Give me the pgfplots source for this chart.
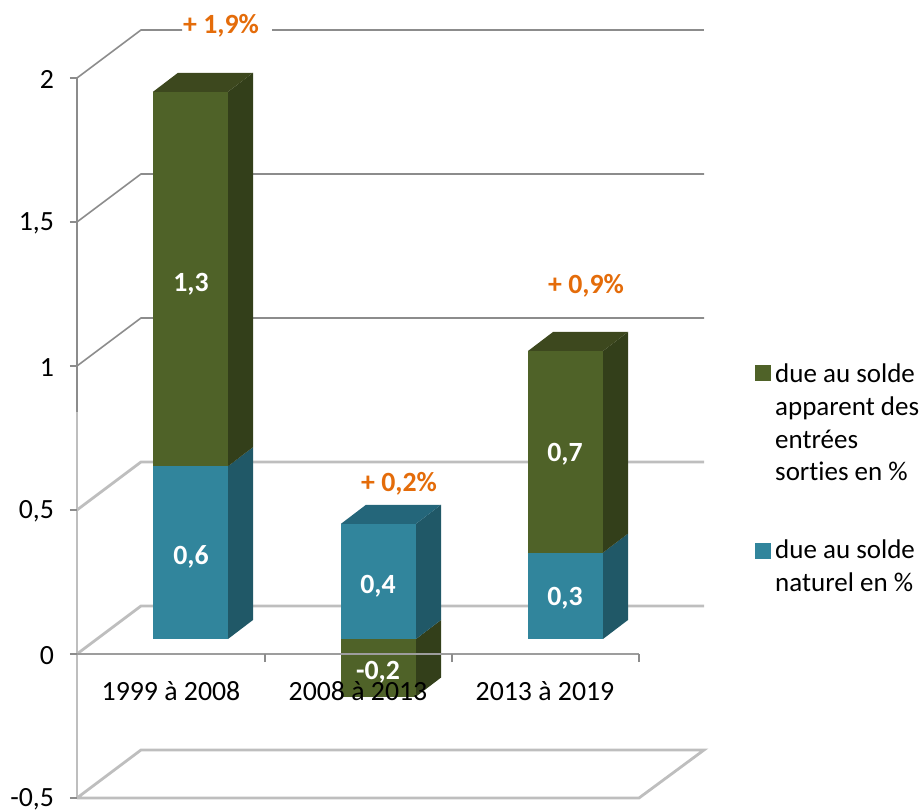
\documentclass[border=0pt]{standalone}
\usepackage{fontspec}
\setmainfont[Ligatures=NoCommon]{Carlito}
\usepackage{pgfplots}
\pgfplotsset{compat=1.18}

\definecolor{olive}{HTML}{4F6228}
\definecolor{oliveside}{HTML}{333F1A}
\definecolor{olivetop}{HTML}{3D481E}
\definecolor{teal}{HTML}{31859C}
\definecolor{tealside}{HTML}{205867}
\definecolor{tealtop}{HTML}{24667A}
\definecolor{gridup}{HTML}{8C8C8C}
\definecolor{gridlow}{HTML}{BEBEBE}
\definecolor{pct}{HTML}{E46C0A}

\newcommand{\txt}{\fontsize{13.9}{16.4}\selectfont}

% x is in image pixels (1px = 0.5pt), y is the chart value
% the faux-3D offset is 25px in x and 0.066 in y
\pgfplotsset{
  face/.style={draw=none, fill=#1, forget plot, yshift=7.5pt},
  up/.style={draw=gridup, line width=0.8pt, forget plot},
  low/.style={draw=gridlow, line width=1.4pt, forget plot},
}

\begin{document}
\begin{tikzpicture}
\useasboundingbox (0,0) rectangle (461pt,405pt);
\begin{axis}[
    at={(38.5pt,0pt)},
    anchor=south west,
    scale only axis,
    width=422.5pt,
    height=405pt,
    xmin=77, xmax=922,
    ymin=-0.54167, ymax=2.27083,
    clip=false,
    axis on top,
    axis x line*=middle,
    axis y line*=left,
    axis line style={draw=none},
    tick align=outside,
    tick style={color=gridup, line width=0.8pt},
    major tick length=3.5pt,
    ytick={-0.5,0,0.5,1,1.5,2},
    yticklabels={{-0,5},0,{0,5},1,{1,5},2},
    xtick={171,358,545},
    xticklabels={1999 à 2008,2008 à 2013,2013 à 2019},
    major x tick style={draw=none},
    minor xtick={265,452,639},
    minor tick length=4pt,
    tick label style={font=\txt, text=black},
    xticklabel style={yshift=-6.5pt},
    yticklabel style={xshift=-4.5pt, yshift=-0.7pt},
    legend style={draw=none, fill=none, at={(axis cs:755,1.023)}, anchor=north west,
                  legend cell align=left, cells={align=left},
                  font=\fontsize{13.5}{16.4}\selectfont, row sep=24pt, inner sep=0pt},
]
% back walls and floors
\addplot[up] coordinates {(77,2) (141,2.1667) (182,2.1667)};
\addplot[up] coordinates {(272,2.1667) (704,2.1667)};
\addplot[up] coordinates {(77,1.5) (141,1.6667) (704,1.6667)};
\addplot[up] coordinates {(77,1) (141,1.1667) (704,1.1667)};
\addplot[low] coordinates {(77,0.5) (141,0.6667) (704,0.6667)};
\addplot[low] coordinates {(77,0) (141,0.1667) (704,0.1667)};
\addplot[low] coordinates {(77,-0.5) (141,-0.3333) (704,-0.3333) (639,-0.5) (77,-0.5)};
\addplot[up] coordinates {(77,2) (77,0.84)};
\addplot[low] coordinates {(77,0.84) (77,-0.5)};

% 1999 a 2008
\addplot[face=teal] coordinates {(153,0) (228,0) (228,0.6) (153,0.6)} --cycle;
\addplot[face=tealside] coordinates {(228,0) (253,0.066) (253,0.666) (228,0.6)} --cycle;
\addplot[face=olive] coordinates {(153,0.6) (228,0.6) (228,1.9) (153,1.9)} --cycle;
\addplot[face=oliveside] coordinates {(228,0.6) (253,0.666) (253,1.966) (228,1.9)} --cycle;
\addplot[face=olivetop] coordinates {(153,1.9) (228,1.9) (253,1.966) (178,1.966)} --cycle;

% 2008 a 2013
\addplot[face=olive] coordinates {(341,-0.2) (416,-0.2) (416,0) (341,0)} --cycle;
\addplot[face=oliveside] coordinates {(416,-0.2) (441,-0.134) (441,0.066) (416,0)} --cycle;
\addplot[face=teal] coordinates {(341,0) (416,0) (416,0.4) (341,0.4)} --cycle;
\addplot[face=tealside] coordinates {(416,0) (441,0.066) (441,0.466) (416,0.4)} --cycle;
\addplot[face=tealtop] coordinates {(341,0.4) (416,0.4) (441,0.466) (366,0.466)} --cycle;

% 2013 a 2019
\addplot[face=teal] coordinates {(528,0) (603,0) (603,0.3) (528,0.3)} --cycle;
\addplot[face=tealside] coordinates {(603,0) (628,0.066) (628,0.366) (603,0.3)} --cycle;
\addplot[face=olive] coordinates {(528,0.3) (603,0.3) (603,1) (528,1)} --cycle;
\addplot[face=oliveside] coordinates {(603,0.3) (628,0.366) (628,1.066) (603,1)} --cycle;
\addplot[face=olivetop] coordinates {(528,1) (603,1) (628,1.066) (553,1.066)} --cycle;

% front axis line, over the bars
\addplot[draw=gridup!85, line width=1pt, forget plot] coordinates {(77,0) (639,0)};

% legend
\addlegendimage{legend image code/.code={\fill[olive] (0pt,21.5pt) rectangle (7.5pt,29pt);}}
\addlegendentry{due au solde\\apparent des\\entrées\\sorties en \%}
\addlegendimage{legend image code/.code={\fill[teal] (0pt,4.5pt) rectangle (7.5pt,12pt);}}
\addlegendentry{due au solde\\naturel en \%}

% value labels
\node[font=\txt\bfseries, text=white] at (axis cs:191,1.285) {1,3};
\node[font=\txt\bfseries, text=white] at (axis cs:191,0.338) {0,6};
\node[font=\txt\bfseries, text=white] at (axis cs:378,0.235) {0,4};
\node[font=\txt\bfseries, text=white] at (axis cs:378,-0.064) {-0,2};
\node[font=\txt\bfseries, text=white] at (axis cs:565,0.692) {0,7};
\node[font=\txt\bfseries, text=white] at (axis cs:565,0.192) {0,3};
\node[font=\txt\bfseries, text=pct] at (axis cs:221,2.18) {+ 1,9\%};
\node[font=\txt\bfseries, text=pct] at (axis cs:399,0.59) {+ 0,2\%};
\node[font=\txt\bfseries, text=pct] at (axis cs:586,1.277) {+ 0,9\%};
\end{axis}
\end{tikzpicture}
\end{document}
